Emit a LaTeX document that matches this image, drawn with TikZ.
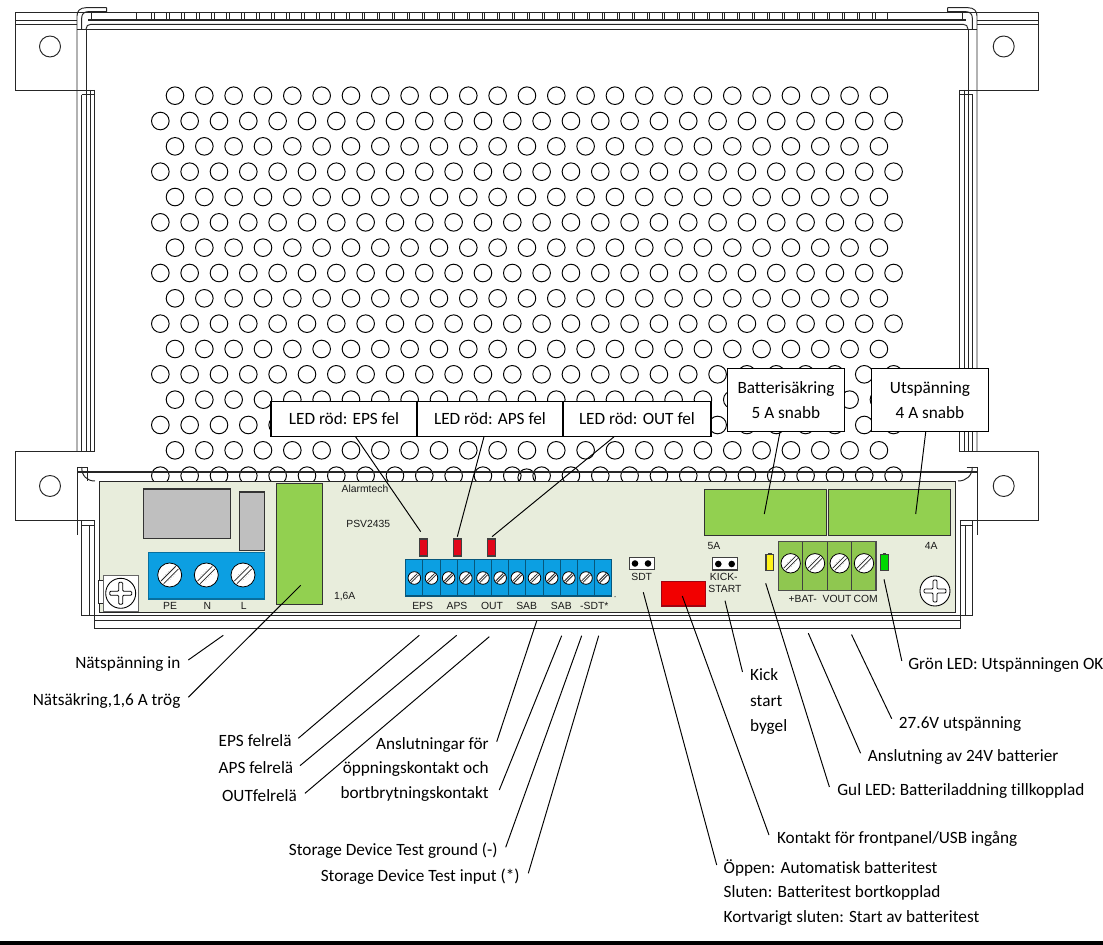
\documentclass[tikz,border=0pt]{standalone}
\usepackage{fontspec}
\setmainfont[Ligatures=NoCommon]{Carlito}
\newfontfamily\boardfont{Liberation Sans}
\usepackage{tikz}
\usetikzlibrary{positioning}

\definecolor{boardbg}{HTML}{E8EDDC}
\definecolor{fusegreen}{HTML}{92D050}
\definecolor{termgreen}{HTML}{8FC750}
\definecolor{termblue}{HTML}{0C9FE2}
\definecolor{relaygray}{HTML}{BFBFBF}
\definecolor{ledred}{HTML}{E2061A}

\tikzset{
    hole/.style={line width=0.55pt},
    frameline/.style={line width=0.55pt, black!85},
    leader/.style={line width=0.55pt},
    partbox/.style={line width=0.6pt, draw=black!80},
    ledbox/.style={line width=0.6pt, draw=black!75},
    boardtext/.style={font=\boardfont\fontsize{5.9pt}{7pt}\selectfont, black!90, inner sep=0pt},
    calltext/.style={font=\fontsize{9.8pt}{14pt}\selectfont, inner sep=0pt, text height=6.5pt, text depth=2pt},
    callbox/.style={draw, fill=white, line width=0.7pt, inner sep=0pt, outer sep=0pt, align=center,
        font=\fontsize{9.8pt}{14.2pt}\selectfont},
}

% slotted terminal screw: x, y, radius
\newcommand{\slotscrew}[3]{%
    \draw[fill=white, line width=0.45pt] (#1,#2) circle[radius=#3];
    \draw[densely dotted, black!45, line width=0.25pt] (#1-0.5*#3,#2+0.1*#3) -- (#1+0.1*#3,#2-0.5*#3);
    \draw[densely dotted, black!45, line width=0.25pt] (#1-0.1*#3,#2+0.5*#3) -- (#1+0.5*#3,#2-0.1*#3);
    \draw[line width=0.45pt, black!85] (#1-0.72*#3,#2+0.5*#3) -- (#1+0.5*#3,#2-0.72*#3);
    \draw[line width=0.45pt, black!85] (#1-0.5*#3,#2+0.72*#3) -- (#1+0.72*#3,#2-0.5*#3);
}
% cross head screw: x, y
\newcommand{\crossscrew}[2]{%
    \draw[fill=white, line width=0.5pt] (#1,#2) circle[radius=15];
    \draw[line width=0.45pt, rounded corners=0.6pt, shift={(#1,#2)}]
        (-2,-11) -- (2,-11) -- (2,-2) -- (11,-2) -- (11,2) -- (2,2) -- (2,11)
        -- (-2,11) -- (-2,2) -- (-11,2) -- (-11,-2) -- (-2,-2) -- cycle;
}

\begin{document}
\begin{tikzpicture}[x=0.02cm, y=-0.02cm]
    \useasboundingbox (0,0) rectangle (1103,945);

    % Ventilation holes
    \foreach \row in {0,...,15}{
        \pgfmathtruncatemacro{\isodd}{mod(\row,2)}
        \pgfmathsetmacro{\ypos}{95.7+25.33*\row}
        \pgfmathsetmacro{\xstart}{175-14.67*\isodd}
        \pgfmathtruncatemacro{\nmax}{24+\isodd}
        \foreach \k in {0,...,\nmax}
            \draw[hole] ({\xstart+29.33*\k},\ypos) circle[radius=8.8];
    }
    \draw[hole] (526.7,477.7) circle[radius=8.8];

    % Top edge
    \draw[frameline] (15.5,12.5) -- (1038.3,12.5);
    \draw[frameline] (15.5,20) -- (77,20);
    \draw[frameline] (15.5,24.3) -- (77,24.3);
    \draw[frameline] (977,20) -- (1038.3,20);
    \draw[frameline] (977,24.3) -- (1038.3,24.3);
    \draw[line width=1pt, black!85] (88,20) -- (966,20);
    \draw[frameline] (86,29) .. controls (86,26) and (88,24.3) .. (91,24.3) -- (963,24.3)
        .. controls (966,24.3) and (968,26) .. (968,29);
    \draw[frameline] (77,29) -- (977,29);
    \draw[frameline] (91.7,12.5) -- (91.7,20);
    \draw[frameline] (962.3,12.5) -- (962.3,20);
    \draw[frameline] (136.7,12.5) -- (136.7,20);
    \draw[frameline] (887.7,12.5) -- (887.7,20);
    \foreach \k in {1,...,49}{
        \draw[frameline] ({136.7+15.02*\k},12.5) -- ({136.7+15.02*\k},20);
        \draw[frameline] ({139+15.02*\k},12.5) -- ({139+15.02*\k},20);
    }

    % Upper corners and hooks
    \draw[frameline] (106.7,7.7) -- (86,7.7) .. controls (80,7.7) and (77,11) .. (77,16) -- (77,451.7);
    \draw[frameline] (106.7,7.7) -- (106.7,11.7) -- (88,11.7) .. controls (84,11.7) and (81.7,14) .. (81.7,18) -- (81.7,29);
    \draw[frameline] (947.7,7.7) -- (968,7.7) .. controls (974,7.7) and (977,11) .. (977,16) -- (977,451.7);
    \draw[frameline] (947.7,7.7) -- (947.7,11.7) -- (966,11.7) .. controls (970,11.7) and (972.3,14) .. (972.3,18) -- (972.3,29);

    % Side rails
    \draw[frameline] (86,29) -- (86,451.7);
    \foreach \xrail in {90,94.3}
        \draw[frameline] (\xrail,90) -- (\xrail,451.7);
    \draw[frameline] (81.7,94.6) -- (81.7,451.7);
    \draw[frameline] (968,29) -- (968,451.7);
    \foreach \xrail in {959.7,964.3}
        \draw[frameline] (\xrail,90) -- (\xrail,451.7);
    \draw[frameline] (972.7,94.6) -- (972.7,451.7);

    % Mounting tabs
    \draw[frameline] (77,12.5) -- (15.5,12.5) -- (15.5,90) -- (94.3,90);
    \draw[frameline] (81.7,94.6) -- (94.3,94.6);
    \draw[frameline] (977,12.5) -- (1038.3,12.5) -- (1038.3,90) -- (959.7,90);
    \draw[frameline] (959.7,94.6) -- (972.7,94.6);
    \draw[frameline] (94.3,451.7) -- (15.5,451.7) -- (15.5,520.3) -- (94.3,520.3);
    \draw[frameline] (959.7,520.3) -- (1038.3,520.3) -- (1038.3,451.7) -- (959.7,451.7);
    \draw[frameline] (50,46.5) circle[radius=10.5];
    \draw[frameline] (1003.7,46.5) circle[radius=10.5];
    \draw[frameline] (50,486) circle[radius=10.5];
    \draw[frameline] (1003.7,486) circle[radius=10.5];

    % Lower corners and rails
    \draw[frameline] (77,467) -- (77,535);
    \draw[frameline] (977,467) -- (977,535);
    \draw[frameline] (77,467) -- (87.3,467) -- (87.3,481);
    \draw[frameline] (966.7,467) -- (977,467);
    \draw[frameline] (81.7,467) .. controls (81.7,476) and (87,481) .. (95,481);
    \draw[frameline] (972.3,467) .. controls (972.3,476) and (966,481) .. (958,481);
    \draw[line width=1pt, black!85] (77,472.3) -- (977,472.3);
    \draw[frameline] (81.7,520.3) -- (81.7,615.7) -- (972.3,615.7) -- (972.3,520.3);
    \draw[frameline] (81.7,525) -- (94.3,525);
    \draw[frameline] (89.3,525) -- (89.3,615.7);
    \draw[frameline] (94.3,520.3) -- (94.3,628) -- (960,628) -- (960,520.3);
    \draw[frameline] (960,525) -- (972.3,525);
    \draw[frameline] (965,525) -- (965,615.7);
    \draw[frameline] (94.3,620.3) -- (960,620.3);

    % Circuit board
    \draw[frameline, fill=boardbg] (99,481.3) rectangle (955,612.3);
    \draw[frameline, fill=white] (98.3,580) rectangle (103,603);
    \draw[line width=0.4pt, black!60, fill=white] (103,575) rectangle (138.3,611.7);
    \crossscrew{120.7}{593.3}
    \crossscrew{935}{591}

    % Relays and mains terminal
    \draw[partbox, fill=relaygray] (143.3,489) rectangle (230.7,538.3);
    \draw[partbox, fill=relaygray] (239.3,492) rectangle (264.3,550.3);
    \draw[partbox, fill=termblue, draw=termblue!70!black] (148.3,552.7) rectangle (264.3,599);
    \foreach \xpos in {169.7,206.3,243}{
        \slotscrew{\xpos}{575}{12}
    }

    % Fuses
    \draw[partbox, fill=fusegreen] (276.7,483.3) rectangle (322.7,604.7);
    \draw[partbox, fill=fusegreen] (704.3,489.7) rectangle (826.3,535.3);
    \draw[partbox, fill=fusegreen] (828.7,489.7) rectangle (950.3,535.3);

    % Red LEDs over the terminal strip
    \foreach \xpos in {423.3,457.3,491.3}{
        \draw[ledbox, fill=ledred] (\xpos-4,539) rectangle (\xpos+4,556);
        \draw[line width=0.6pt, black!75] (\xpos,556) -- (\xpos,557.5);
    }
    \draw[line width=0.7pt, draw=termblue!55!black, fill=termblue] (405.7,559.7) rectangle (611.7,596);
    \foreach \k in {1,...,11}
        \draw[line width=0.6pt, termblue!55!black] ({405.7+17.17*\k},559.7) -- ({405.7+17.17*\k},596);
    \foreach \k in {0,...,11}{
        \slotscrew{414.3+17.17*\k}{578}{6.3}
    }
    \fill[black!70] (615,596.7) circle[radius=0.7];

    % Jumpers and connector
    \draw[ledbox, fill=white] (629.7,557.3) rectangle (654.3,569.3);
    \fill (635,563.5) circle[radius=3.3];
    \fill (648,563.5) circle[radius=3.3];
    \draw[ledbox, fill=white] (712.3,557.7) rectangle (737.7,570);
    \fill (718.3,564) circle[radius=3.3];
    \fill (731.7,564) circle[radius=3.3];
    \draw[line width=0.6pt, draw=ledred!70!black, fill=red!95!black] (661.7,581.3) rectangle (705.3,606);

    % Battery and output terminal with its LEDs
    \draw[ledbox, fill=yellow!90!white] (766,554.5) rectangle (773.7,570.3);
    \draw[line width=0.8pt, black!75] (768,553.7) -- (771.7,553.7);
    \draw[ledbox, fill=green!85!black] (880.7,554.5) rectangle (888.7,570.3);
    \draw[line width=0.8pt, black!75] (883,553.7) -- (886.4,553.7);
    \draw[line width=0.6pt, draw=black!70, fill=termgreen] (778.3,541.7) rectangle (876,590.3);
    \foreach \k in {1,2,3}
        \draw[line width=0.6pt, black!75] ({778.3+24.42*\k},541.7) -- ({778.3+24.42*\k},590.3);
    \foreach \xpos in {790.7,815,839.7,864}{
        \slotscrew{\xpos}{563.3}{9.7}
    }

    % Board print
    \node[boardtext] (lblAlarm) at (365,489) {Alarmtech};
    \node[boardtext] (lblType) at (368.3,524.3) {PSV2435};
    \node[boardtext] (lblMains) at (344.7,596.7) {1,6A};
    \node[boardtext] (lblPE) at (170,605.7) {PE};
    \node[boardtext] (lblN) at (207.3,605.7) {N};
    \node[boardtext] (lblL) at (243.7,605.7) {L};
    \node[boardtext] (lblEps) at (422.7,605.7) {EPS};
    \node[boardtext] (lblAps) at (457,605.7) {APS};
    \node[boardtext] (lblOut) at (492,605.7) {OUT};
    \node[boardtext] (lblSabA) at (526.7,605.7) {SAB};
    \node[boardtext] (lblSabB) at (561.3,605.7) {SAB};
    \node[boardtext] (lblSdtStar) at (594.3,605.7) {-SDT*};
    \node[boardtext] (lblSdt) at (641.7,576.7) {SDT};
    \node[boardtext] (lblKick) at (723.8,576.7) {KICK-};
    \node[boardtext] (lblStart) at (725,589.3) {START};
    \node[boardtext] (lblFiveA) at (714,546) {5A};
    \node[boardtext] (lblFourA) at (931.3,546) {4A};
    \node[boardtext] (lblBat) at (802.7,599.3) {+BAT-};
    \node[boardtext] (lblVout) at (837,599.3) {VOUT};
    \node[boardtext] (lblCom) at (865.7,599.3) {COM};

    % Boxes above the board
    \node[callbox, minimum width=2.92cm, minimum height=0.71cm] (boxEps) at (344,419) {LED röd: EPS fel};
    \node[callbox, minimum width=2.92cm, minimum height=0.71cm, right=0pt of boxEps] (boxAps) {LED röd: APS fel};
    \node[callbox, minimum width=2.96cm, minimum height=0.71cm, right=0pt of boxAps] (boxOut) {LED röd: OUT fel};
    \node[callbox, minimum width=2.33cm, minimum height=1.27cm] (boxBat) at (786,400) {Batterisäkring\\5 A snabb};
    \node[callbox, minimum width=2.33cm, minimum height=1.26cm] (boxVout) at (930,400) {Utspänning\\4 A snabb};

    % Texts below the board
    \node[calltext, anchor=east] (txtMains) at (180.7,664.3) {Nätspänning in};
    \node[calltext, anchor=east] (txtFuse) at (180.7,701.7) {Nätsäkring,1,6 A trög};
    \node[calltext, anchor=west] (txtEps) at (218.3,742.7) {EPS felrelä};
    \node[calltext, anchor=west] (txtAps) at (218.3,770) {APS felrelä};
    \node[calltext, anchor=west] (txtOut) at (221.7,797.7) {OUTfelrelä};
    \node[calltext, anchor=east] (txtSabA) at (489,746) {Anslutningar för};
    \node[calltext, anchor=east] (txtSabB) at (489,770) {öppningskontakt och};
    \node[calltext, anchor=east] (txtSabC) at (489,795) {bortbrytningskontakt};
    \node[calltext, anchor=east] (txtGround) at (498,851.7) {Storage Device Test ground (-)};
    \node[calltext, anchor=east] (txtInput) at (520,878) {Storage Device Test input (*)};
    \node[calltext, anchor=west] (txtKick) at (749.8,677) {Kick};
    \node[calltext, anchor=west] (txtKickB) at (749.8,702.4) {start};
    \node[calltext, anchor=west] (txtKickC) at (749.8,727.3) {bygel};
    \node[calltext, anchor=west] (txtGreen) at (908,665.7) {Grön LED: Utspänningen OK};
    \node[calltext, anchor=west] (txtVolt) at (898.6,725) {27.6V utspänning};
    \node[calltext, anchor=west] (txtBat) at (867.5,757.8) {Anslutning av 24V batterier};
    \node[calltext, anchor=west] (txtYellow) at (837,791.4) {Gul LED: Batteriladdning tillkopplad};
    \node[calltext, anchor=west] (txtPanel) at (776.7,840) {Kontakt för frontpanel/USB ingång};
    \node[calltext, anchor=west] (txtOpen) at (723.3,869.3) {Öppen: Automatisk batteritest};
    \node[calltext, anchor=west] (txtClosed) at (723.3,894) {Sluten: Batteritest bortkopplad};
    \node[calltext, anchor=west] (txtShort) at (723.3,918.3) {Kortvarigt sluten: Start av batteritest};

    % Leader ends
    \coordinate (tipEps) at (420.7,531.7);
    \coordinate (tipAps) at (457.3,536.7);
    \coordinate (tipOut) at (492,536.7);
    \coordinate (tipBat) at (764.3,514);
    \coordinate (tipVout) at (915.7,514);
    \coordinate (endMainsA) at (223.3,635.3);
    \coordinate (endMainsB) at (188.3,660);
    \coordinate (endFuseA) at (300.7,585.3);
    \coordinate (endFuseB) at (188.3,697.3);
    \coordinate (endEpsA) at (419.3,635.3);
    \coordinate (endEpsB) at (298.3,738.3);
    \coordinate (endApsA) at (456.7,635.3);
    \coordinate (endApsB) at (300,765.7);
    \coordinate (endOutA) at (489.3,636.7);
    \coordinate (endOutB) at (305,793.3);
    \coordinate (endSabA) at (536.7,621);
    \coordinate (endSabB) at (496.7,741.7);
    \coordinate (endSabC) at (561.7,635.7);
    \coordinate (endSabD) at (499.3,790);
    \coordinate (endGroundA) at (581.7,635.7);
    \coordinate (endGroundB) at (505.7,847.3);
    \coordinate (endInputA) at (598.7,635.7);
    \coordinate (endInputB) at (528.3,873.3);
    \coordinate (endSdtA) at (643.3,592.3);
    \coordinate (endSdtB) at (716.7,865);
    \coordinate (endPanelA) at (682.3,596);
    \coordinate (endPanelB) at (769,835);
    \coordinate (endKickA) at (725,600.7);
    \coordinate (endKickB) at (742.5,672);
    \coordinate (endYellowA) at (765.7,583.3);
    \coordinate (endYellowB) at (829.4,787);
    \coordinate (endBatA) at (808.3,633.2);
    \coordinate (endBatB) at (860.6,753.3);
    \coordinate (endVoltA) at (851.5,634.5);
    \coordinate (endVoltB) at (891.7,718.7);
    \coordinate (endGreenA) at (884,579.3);
    \coordinate (endGreenB) at (901.8,660.9);

    % Leaders
    \draw[leader] ([xshift=6.6pt]boxEps.south) -- (tipEps);
    \draw[leader] ([xshift=-3.4pt]boxAps.south) -- (tipAps);
    \draw[leader] ([xshift=-13pt]boxOut.south) -- (tipOut);
    \draw[leader] ([xshift=-3.4pt]boxBat.south) -- (tipBat);
    \draw[leader] ([xshift=-2.4pt]boxVout.south) -- (tipVout);
    \foreach \nameend in {Mains,Fuse,Eps,Aps,Out,Ground,Input,Sdt,Panel,Kick,Yellow,Bat,Volt,Green}
        \draw[leader] (end\nameend A) -- (end\nameend B);
    \draw[leader] (endSabA) -- (endSabB);
    \draw[leader] (endSabC) -- (endSabD);

    % Rule at the bottom edge
    \fill (0,941) rectangle (1103,945);
\end{tikzpicture}
\end{document}
